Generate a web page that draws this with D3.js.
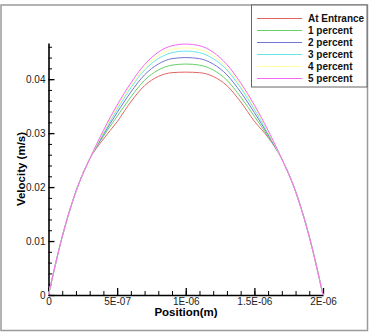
<!DOCTYPE html>
<html>
<head>
<meta charset="utf-8">
<script src="https://cdn.jsdelivr.net/npm/d3@7"></script>
<style>
  body { margin: 0; background: #fff; }
  svg { display: block; font-family: "Liberation Sans", Arial, sans-serif; }
</style>
</head>
<body>
<div id="chart"></div>
<script>
// positions along the channel, in units of 1E-07 m
const positions = [0, 1, 2, 3, 4, 5, 6, 7, 8, 9, 10, 11, 12, 13, 14, 15, 16, 17, 18, 19, 20];

const seriesNames = ["At Entrance", "1 percent", "2 percent", "3 percent", "4 percent", "5 percent"];
const seriesColors = ["#e06666", "#66d066", "#7474d4", "#66e6e6", "#ffff9e", "#f566f5"];

const atEntrance = [0, 0.0108, 0.0192, 0.0252, 0.0289, 0.0321, 0.0358, 0.0388, 0.0405, 0.0412, 0.0413,
    0.0412, 0.0405, 0.0388, 0.0358, 0.0322, 0.0292, 0.0252, 0.0192, 0.0108, 0];
const percent1 = [0, 0.0108, 0.0192, 0.0252, 0.0294, 0.0331, 0.0367, 0.0398, 0.0417, 0.0426, 0.0428,
    0.0426, 0.0417, 0.0398, 0.0367, 0.0331, 0.0294, 0.0252, 0.0192, 0.0108, 0];
const percent2 = [0, 0.0108, 0.0192, 0.0252, 0.0297, 0.0338, 0.0376, 0.0408, 0.0428, 0.0438, 0.0440,
    0.0438, 0.0428, 0.0408, 0.0376, 0.0338, 0.0297, 0.0252, 0.0192, 0.0108, 0];
const percent3 = [0, 0.0108, 0.0192, 0.0252, 0.0300, 0.0344, 0.0384, 0.0417, 0.0438, 0.0449, 0.0452,
    0.0449, 0.0438, 0.0417, 0.0384, 0.0344, 0.0300, 0.0252, 0.0192, 0.0108, 0];
const percent4 = [0, 0.0108, 0.0192, 0.0252, 0.0302, 0.0348, 0.0388, 0.0421, 0.0444, 0.0455, 0.0458,
    0.0455, 0.0444, 0.0421, 0.0388, 0.0348, 0.0302, 0.0252, 0.0192, 0.0108, 0];
const percent5 = [0, 0.0108, 0.0192, 0.0252, 0.0305, 0.0352, 0.0393, 0.0427, 0.0450, 0.0462, 0.0465,
    0.0462, 0.0450, 0.0427, 0.0393, 0.0352, 0.0305, 0.0252, 0.0192, 0.0108, 0];

const allSeries = [atEntrance, percent1, percent2, percent3, percent4, percent5];

const xTickVals = [0, 5e-7, 1e-6, 1.5e-6, 2e-6];
const xTickLabels = ["0", "5E-07", "1E-06", "1.5E-06", "2E-06"];
const yTickVals = [0, 0.01, 0.02, 0.03, 0.04];
const yTickLabels = ["0", "0.01", "0.02", "0.03", "0.04"];

var width = 370, height = 332;
var svg = d3.select("#chart").append("svg")
    .attr("width", width)
    .attr("height", height);

// outer frame
svg.append("rect")
    .attr("x", 1).attr("y", 5)
    .attr("width", 366.5).attr("height", 325.5)
    .attr("fill", "none")
    .attr("stroke", "#9a9a9a")
    .attr("stroke-width", 1.5);

var x = d3.scaleLinear().domain([0, 2e-6]).range([48.5, 323]);
var y = d3.scaleLinear().domain([0, 0.0467]).range([295, 43]);

// minor ticks
svg.append("g")
    .attr("transform", "translate(0," + y(0) + ")")
    .call(d3.axisBottom(x).tickValues(d3.range(0, 21).map(d => d * 1e-7)).tickSize(-4).tickSizeOuter(0).tickFormat(""))
    .call(g => g.select(".domain").remove());
svg.append("g")
    .attr("transform", "translate(" + x(0) + ",0)")
    .call(d3.axisLeft(y).tickValues(d3.range(0, 24).map(d => d * 0.002)).tickSize(-3.5).tickSizeOuter(0).tickFormat(""))
    .call(g => g.select(".domain").remove());

// major axes
var xAxis = svg.append("g")
    .attr("transform", "translate(0," + y(0) + ")")
    .call(d3.axisBottom(x).tickValues(xTickVals).tickSize(-7).tickSizeOuter(0).tickPadding(3)
        .tickFormat((d, i) => xTickLabels[i]));
var yAxis = svg.append("g")
    .attr("transform", "translate(" + x(0) + ",0)")
    .call(d3.axisLeft(y).tickValues(yTickVals).tickSize(-6).tickSizeOuter(0).tickPadding(3)
        .tickFormat((d, i) => yTickLabels[i]));

[xAxis, yAxis].forEach(g => {
    g.selectAll(".domain").attr("stroke", "#000").attr("stroke-width", 1.6);
    g.selectAll(".tick line").attr("stroke", "#000").attr("stroke-width", 1.3);
    g.selectAll(".tick text").attr("fill", "#222").style("font-size", "10px");
});
svg.selectAll("g line").attr("stroke", "#000");

// curves
var line = d3.line()
    .x((d, i) => x(positions[i] * 1e-7))
    .y(d => y(d))
    .curve(d3.curveMonotoneX);

svg.append("g").selectAll("path")
    .data(allSeries)
    .enter()
    .append("path")
    .attr("d", d => line(d))
    .attr("fill", "none")
    .attr("stroke", (d, i) => seriesColors[i])
    .attr("stroke-width", 1);

// axis titles
svg.append("text")
    .attr("x", 186).attr("y", 316)
    .attr("text-anchor", "middle")
    .style("font-size", "11.5px").style("font-weight", "bold")
    .text("Position(m)");
svg.append("text")
    .attr("transform", "translate(25,169) rotate(-90)")
    .attr("text-anchor", "middle")
    .style("font-size", "11.5px").style("font-weight", "bold")
    .text("Velocity (m/s)");

// legend
var legend = svg.append("g");
legend.append("rect")
    .attr("x", 251.5).attr("y", 5)
    .attr("width", 115.5).attr("height", 82)
    .attr("fill", "#fff")
    .attr("stroke", "#666")
    .attr("stroke-width", 1);

var rows = legend.selectAll("g.row")
    .data(seriesNames)
    .enter()
    .append("g")
    .attr("class", "row")
    .attr("transform", (d, i) => "translate(0," + (18.5 + i * 12) + ")");
rows.append("line")
    .attr("x1", 257).attr("x2", 302)
    .attr("stroke", (d, i) => seriesColors[i])
    .attr("stroke-width", 1.2);
rows.append("text")
    .attr("x", 308).attr("y", 3.5)
    .style("font-size", "10px").style("font-weight", "bold")
    .attr("fill", "#111")
    .text(d => d);
</script>
</body>
</html>
